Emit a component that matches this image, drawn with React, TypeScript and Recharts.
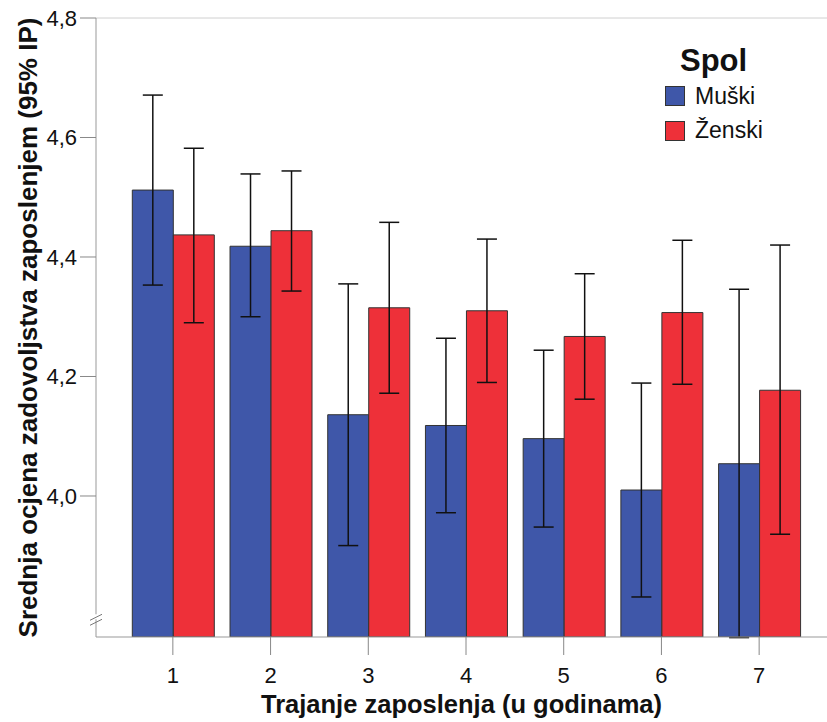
import React from 'react';
import { BarChart, Bar, XAxis, YAxis, ErrorBar, Legend, ReferenceLine } from 'recharts';

const categories = ['1', '2', '3', '4', '5', '6', '7'];
const muski = [4.512, 4.418, 4.136, 4.118, 4.096, 4.010, 4.054];
const muskiLow = [4.353, 4.300, 3.917, 3.972, 3.948, 3.831, 3.763];
const muskiHigh = [4.671, 4.539, 4.355, 4.264, 4.244, 4.189, 4.346];
const zenski = [4.437, 4.444, 4.315, 4.310, 4.267, 4.307, 4.177];
const zenskiLow = [4.290, 4.343, 4.172, 4.190, 4.162, 4.187, 3.936];
const zenskiHigh = [4.582, 4.544, 4.458, 4.430, 4.372, 4.428, 4.420];
const yTicks = [4.0, 4.2, 4.4, 4.6, 4.8];
const yDomainMin = 3.764;
const yDomainMax = 4.8;
const breakValue = 3.797;

const seriesNames = { m: 'Muški', z: 'Ženski' };
const xTitle = 'Trajanje zaposlenja (u godinama)';
const yTitle = 'Srednja ocjena zadovoljstva zaposlenjem (95% IP)';
const legendTitle = 'Spol';

const BLUE = '#3f57a9';
const RED = '#ee3039';
const FONT = '"Liberation Sans", Arial, sans-serif';
const Y_TICK_SIZE = 16;
const Y_TICK_MARGIN = 3;

const data = categories.map((c, i) => ({
  cat: c,
  m: muski[i],
  mErr: [muski[i] - muskiLow[i], muskiHigh[i] - muski[i]],
  z: zenski[i],
  zErr: [zenski[i] - zenskiLow[i], zenskiHigh[i] - zenski[i]],
}));

const fmt = (v: number) => v.toFixed(1).replace('.', ',');

const YTick = (props: any) => {
  const { x, y, payload } = props;
  const axisX = x + Y_TICK_SIZE + Y_TICK_MARGIN;
  if (Math.abs(payload.value - breakValue) < 1e-6) {
    return (
      <g>
        <rect x={axisX - 2} y={y - 3} width={4} height={5} fill="#fff" />
        <line x1={axisX - 6} y1={y + 3} x2={axisX + 6} y2={y - 3} stroke="#777" strokeWidth={1} />
        <line x1={axisX - 6} y1={y + 8} x2={axisX + 6} y2={y + 2} stroke="#777" strokeWidth={1} />
      </g>
    );
  }
  return (
    <g>
      <line x1={axisX - Y_TICK_SIZE} y1={y} x2={axisX} y2={y} stroke="#888" strokeWidth={1} />
      <text x={x} y={y} dy="0.36em" textAnchor="end" fontSize={22} fontFamily={FONT} fill="#111">
        {fmt(payload.value)}
      </text>
    </g>
  );
};

const LegendContent = () => (
  <div style={{ position: 'relative', width: 160, height: 110, fontFamily: FONT, color: '#111' }}>
    <div style={{ position: 'absolute', left: 20, top: 5, fontSize: 31, lineHeight: '31px', fontWeight: 'bold' }}>{legendTitle}</div>
    <div style={{ position: 'absolute', left: 5, top: 46, width: 20, height: 20, background: BLUE, border: '1px solid #333', boxSizing: 'border-box' }} />
    <div style={{ position: 'absolute', left: 35, top: 45, fontSize: 23, lineHeight: '23px' }}>{seriesNames.m}</div>
    <div style={{ position: 'absolute', left: 5, top: 81, width: 20, height: 20, background: RED, border: '1px solid #333', boxSizing: 'border-box' }} />
    <div style={{ position: 'absolute', left: 35, top: 79, fontSize: 23, lineHeight: '23px' }}>{seriesNames.z}</div>
  </div>
);

const XTitle = (props: any) => {
  const vb = props.viewBox;
  return (
    <text x={vb.x + vb.width / 2} y={vb.y + 76} textAnchor="middle" fontSize={25.5} fontWeight="bold" fontFamily={FONT} fill="#111">
      {xTitle}
    </text>
  );
};

const YTitle = (props: any) => {
  const vb = props.viewBox;
  const cx = 28;
  const cy = vb.y + vb.height / 2;
  return (
    <text x={cx} y={cy} transform={`rotate(-90 ${cx} ${cy})`} textAnchor="middle" dominantBaseline="central" fontSize={26} fontWeight="bold" fontFamily={FONT} fill="#111">
      {yTitle}
    </text>
  );
};

export default function App() {
  return (
    <div style={{ position: 'absolute', left: 0, top: 0, width: 827, height: 722, background: '#fff' }}>
      <BarChart
        width={827}
        height={722}
        data={data}
        margin={{ top: 18, right: 0, bottom: 0, left: 0 }}
        barCategoryGap="8.5%"
        barGap={0}
      >
        <ReferenceLine y={yDomainMax} stroke="#d0d0d0" strokeWidth={1} />
        <XAxis
          dataKey="cat"
          height={85}
          padding={{ left: 28, right: 19 }}
          axisLine={{ stroke: '#999', strokeWidth: 1 }}
          tickLine={{ stroke: '#888', strokeWidth: 1 }}
          tickSize={18}
          tickMargin={12}
          tick={{ fontSize: 22, fontFamily: FONT, fill: '#111' }}
          label={<XTitle />}
        />
        <YAxis
          type="number"
          width={96}
          domain={[yDomainMin, yDomainMax]}
          allowDataOverflow
          ticks={[breakValue, ...yTicks]}
          interval={0}
          axisLine={{ stroke: '#999', strokeWidth: 1 }}
          tickLine={false}
          tickSize={Y_TICK_SIZE}
          tickMargin={Y_TICK_MARGIN}
          tick={<YTick />}
          label={<YTitle />}
        />
        <Legend
          content={<LegendContent />}
          layout="vertical"
          verticalAlign="middle"
          align="center"
          wrapperStyle={{ position: 'absolute', left: 660, top: 40, width: 160, height: 110 }}
        />
        <Bar dataKey="m" name={seriesNames.m} fill={BLUE} stroke="#333" strokeWidth={1} isAnimationActive={false}>
          <ErrorBar dataKey="mErr" width={10} stroke="#111" strokeWidth={1.5} direction="y" />
        </Bar>
        <Bar dataKey="z" name={seriesNames.z} fill={RED} stroke="#333" strokeWidth={1} isAnimationActive={false}>
          <ErrorBar dataKey="zErr" width={10} stroke="#111" strokeWidth={1.5} direction="y" />
        </Bar>
      </BarChart>
    </div>
  );
}
